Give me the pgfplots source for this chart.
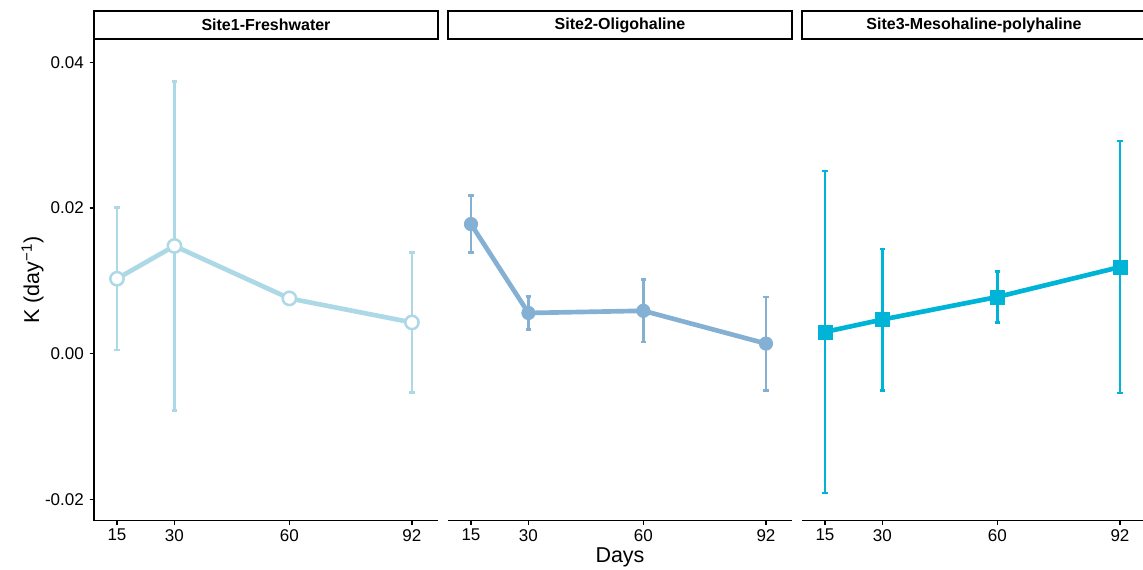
\documentclass[border=0pt]{standalone}
\usepackage{pgfplots}
\usepackage{pgfplotstable}
\pgfplotsset{compat=1.18}
\usepackage{fontspec}
\setmainfont{Liberation Sans}

\definecolor{c1}{HTML}{ADD8E6}
\definecolor{c2}{HTML}{84B0D4}
\definecolor{c3}{HTML}{00B4D8}

% mean K and error (+-) per sampling day
\pgfplotstableread{
day k err
15 0.0103 0.0098
30 0.0148 0.0226
60 0.0076 0.0003
92 0.0043 0.0096
}\siteone
\pgfplotstableread{
day k err
15 0.0178 0.0039
30 0.0056 0.0023
60 0.0059 0.0043
92 0.0014 0.0064
}\sitetwo
\pgfplotstableread{
day k err
15 0.0030 0.0221
30 0.0047 0.0097
60 0.0078 0.0035
92 0.0119 0.0173
}\sitethree

\pgfplotsset{
  facet/.style={
    scale only axis, width=206.4pt, height=289pt,
    xmin=9, xmax=98.8, ymin=-0.0229, ymax=0.0432,
    xtick={15,30,60,92}, xticklabels={15,30,60,92},
    tick align=outside, major tick length=2.6pt,
    axis line style={line width=0.8pt}, tick style={line width=0.8pt, black},
    axis x line*=bottom,
    ticklabel style={font=\fontsize{10.2}{12}\selectfont},
    xticklabel style={yshift=1pt},
    clip=false,
  },
  errs/.style={
    error bars/.cd, y dir=both, y explicit,
    error bar style={line width=1.6pt, #1},
    error mark options={rotate=90, line width=1.6pt, mark size=1.7pt, #1},
  },
}

\begin{document}
\begin{tikzpicture}
\useasboundingbox (-56.4pt,-29.6pt) rectangle (629.4pt,312.4pt);
\begin{axis}[facet, name=p1, at={(0,0)},
    axis y line*=left,
    ytick={-0.02,0,0.02,0.04},
    yticklabels={-0.02,0.00,0.02,0.04},
    ylabel={K (day\textsuperscript{−1})},
    ylabel style={font=\fontsize{12.9}{15}\selectfont, yshift=-6pt}]
\addplot+[c1, line width=2.8pt, mark=*, mark size=4pt,
    mark options={fill=white, draw=c1, line width=1.5pt},
    errs=c1] table[x=day, y=k, y error=err] {\siteone};
\end{axis}

\begin{axis}[facet, name=p2, at={(212.4pt,0)},
    axis y line=none, ytick=\empty,
    xlabel={Days},
    xlabel style={font=\fontsize{12.9}{15}\selectfont, yshift=3pt}]
\addplot+[c2, line width=2.8pt, mark=*, mark size=4pt,
    mark options={fill=c2, draw=c2, line width=0.5pt},
    errs=c2] table[x=day, y=k, y error=err] {\sitetwo};
\end{axis}

\begin{axis}[facet, name=p3, at={(424.8pt,0)},
    axis y line=none, ytick=\empty]
\addplot+[c3, line width=2.8pt, mark=square*, mark size=4.2pt,
    mark options={fill=c3, draw=c3, line width=0.5pt},
    errs=c3] table[x=day, y=k, y error=err] {\sitethree};
\end{axis}

\foreach \p/\t in {p1/Site1-Freshwater, p2/Site2-Oligohaline, p3/Site3-Mesohaline-polyhaline}{
  \draw[line width=0.8pt, fill=white] (\p.north west) rectangle ([yshift=16.8pt]\p.north east);
  \node[font=\bfseries\fontsize{9.6}{11}\selectfont] at ([yshift=8.4pt]\p.north) {\t};
}
\end{tikzpicture}
\end{document}
